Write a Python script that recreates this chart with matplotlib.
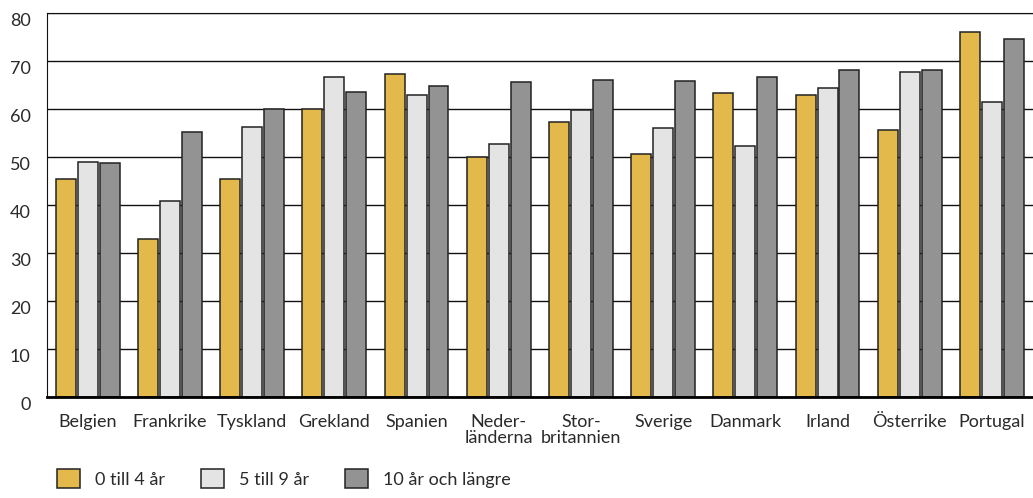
import numpy as np
import matplotlib
matplotlib.use("Agg")
import matplotlib.pyplot as plt

# ==========================================
#  DATA
# ==========================================
countries = ["Belgien", "Frankrike", "Tyskland", "Grekland", "Spanien",
             "Neder-\nländerna", "Stor-\nbritannien", "Sverige", "Danmark",
             "Irland", "Österrike", "Portugal"]
series_names = ["0 till 4 år", "5 till 9 år", "10 år och längre"]
v_0_4 = [45.5, 32.9, 45.5, 60.1, 67.4, 50.0, 57.3, 50.7, 63.4, 62.9, 55.6, 76.1]
v_5_9 = [49.0, 40.9, 56.4, 66.7, 62.9, 52.8, 59.9, 56.1, 52.3, 64.4, 67.7, 61.5]
v_10 = [48.8, 55.3, 60.1, 63.7, 64.8, 65.8, 66.2, 66.0, 66.7, 68.1, 68.2, 74.7]
y_ticks = [0, 10, 20, 30, 40, 50, 60, 70, 80]

colors = ["#E3B94B", "#E4E4E4", "#939393"]

plt.rcParams["font.family"] = ["Lato", "DejaVu Sans"]
plt.rcParams["font.size"] = 13
plt.rcParams["text.color"] = "#2a2a2a"

fig = plt.figure(figsize=(10.33, 4.98), dpi=100)
ax = fig.add_axes([0.0452, 0.203, 0.9548, 0.770])

x = np.arange(len(countries))
width = 0.243
step = 0.267
for i, (vals, name) in enumerate(zip([v_0_4, v_5_9, v_10], series_names)):
    ax.bar(x + (i - 1) * step, vals, width=width, color=colors[i],
           edgecolor="#222222", linewidth=1.1, label=name, zorder=3)

ax.set_xlim(-0.5, 11.5)
ax.set_ylim(0, 80)
ax.set_yticks(y_ticks)
ax.set_xticks(x)
ax.set_xticklabels(countries, linespacing=1.0)
ax.tick_params(axis="x", length=0, pad=12, labelcolor="#2a2a2a")
ax.tick_params(axis="y", length=0, pad=11.5, labelcolor="#2a2a2a")
for lab in ax.get_yticklabels():
    lab.set_va("top")

ax.yaxis.grid(True, color="#111111", linewidth=1.0)
ax.set_axisbelow(True)
ax.spines["right"].set_visible(False)
ax.spines["left"].set_color("#111111")
ax.spines["top"].set_color("#111111")
ax.spines["bottom"].set_linewidth(2.0)
ax.spines["bottom"].set_zorder(4)

fig.legend(loc="upper left", bbox_to_anchor=(57 / 1033, 1 - 469 / 498),
           ncol=3, frameon=False, handlelength=1.25, handleheight=1.25,
           handletextpad=0.85, columnspacing=2.0, borderpad=0,
           borderaxespad=0, fontsize=13)

fig.savefig("out.png", dpi=100)
